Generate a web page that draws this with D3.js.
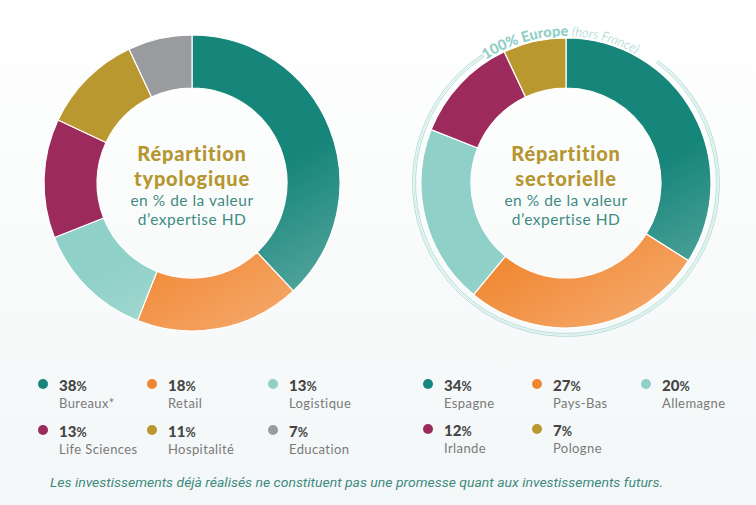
<!DOCTYPE html>
<html><head><meta charset="utf-8">
<script src="https://cdn.jsdelivr.net/npm/d3@7"></script>
<style>
body{margin:0;background:#fbfcfc;}
svg{display:block;}
text{font-variant-ligatures:none;}
</style></head>
<body>
<svg id="c" width="756" height="505"></svg>
<script>
const typoCategories = ["Bureaux*", "Retail", "Logistique", "Life Sciences", "Hospitalité", "Education"];
const typoValues = [38, 18, 13, 13, 11, 7];
const typoColors = ["#16857a", "#f08630", "#8fd0c8", "#9c2a5c", "#b8982f", "#9a9b9e"];

const sectCategories = ["Espagne", "Pays-Bas", "Allemagne", "Irlande", "Pologne"];
const sectValues = [34, 27, 20, 12, 7];
const sectColors = ["#16857a", "#f08630", "#8fd0c8", "#9c2a5c", "#b8982f"];

const centerTitles = [["Répartition", "typologique"], ["Répartition", "sectorielle"]];
const centerSub = ["en % de la valeur", "d\u2019expertise HD"];
const footnote = "Les investissements déjà réalisés ne constituent pas une promesse quant aux investissements futurs.";

const svg = d3.select("#c");
const defs = svg.append("defs");

const bg = defs.append("linearGradient").attr("id","bg").attr("x1",0).attr("y1",0).attr("x2",0).attr("y2",1);
bg.append("stop").attr("offset","0%").attr("stop-color","#ffffff");
bg.append("stop").attr("offset","100%").attr("stop-color","#f3f7f7");
svg.append("rect").attr("width",756).attr("height",505).attr("fill","url(#bg)");

function donut(id, cx, cy, R, r, cats, vals, cols){
  const g = svg.append("g").attr("transform",`translate(${cx},${cy})`);
  const pie = d3.pie().sort(null).value(d=>d)(vals);
  const arc = d3.arc().innerRadius(r).outerRadius(R);
  pie.forEach((p,i)=>{
    const gid = id+"g"+i;
    const lg = defs.append("linearGradient").attr("id",gid).attr("gradientUnits","userSpaceOnUse")
      .attr("x1",-R*0.3).attr("y1",-R).attr("x2",R*0.8).attr("y2",R*0.9);
    lg.append("stop").attr("offset","0%").attr("stop-color",cols[i]);
    lg.append("stop").attr("offset","55%").attr("stop-color",cols[i]);
    lg.append("stop").attr("offset","100%").attr("stop-color",d3.interpolateRgb(cols[i],"#ffffff")(0.3));
    g.append("path").attr("d",arc(p)).attr("fill",`url(#${gid})`)
      .attr("stroke","#ffffff").attr("stroke-width",1.2);
  });
  return g;
}

const fontTitle = "Lato, sans-serif";

function center(g, k){
  const mk = (y, txt, fs, fw, col, ls) => g.append("text").attr("x",0).attr("y",y)
    .attr("text-anchor","middle").attr("font-family",fontTitle).attr("font-size",fs)
    .attr("font-weight",fw).attr("fill",col).attr("letter-spacing",ls).text(txt);
  mk(-22, centerTitles[k][0], 20, 900, "#b5962f", 0.8);
  mk(2.5, centerTitles[k][1], 20, 900, "#b5962f", 0.8);
  mk(22.5, centerSub[0], 15.5, 400, "#3f8b84", 0.5);
  mk(41.5, centerSub[1], 15.5, 400, "#3f8b84", 0.5);
}

const g1 = donut("a", 192, 183, 148, 95, typoCategories, typoValues, typoColors);
center(g1, 0);

const g2c = {x:566, y:183};
const ringR = 152;
const ring = svg.append("g").attr("transform",`translate(${g2c.x},${g2c.y})`);
const toRad = d=>d*Math.PI/180;
ring.append("path").attr("d", d3.arc().innerRadius(ringR-1.5).outerRadius(ringR+1.5)
  .startAngle(toRad(37)).endAngle(toRad(327))()).attr("fill","none").attr("stroke","#a3d8d0").attr("stroke-width",0.8);
ring.append("path").attr("d", d3.arc().innerRadius(ringR-0.5).outerRadius(ringR+0.5)
  .startAngle(toRad(37)).endAngle(toRad(327))()).attr("fill","#d3ece8");
const tr = 147;
const a0 = toRad(-33), a1 = toRad(40);
const pth = `M ${tr*Math.sin(a0)} ${-tr*Math.cos(a0)} A ${tr} ${tr} 0 0 1 ${tr*Math.sin(a1)} ${-tr*Math.cos(a1)}`;
defs.append("path").attr("id","tp").attr("d",pth).attr("transform",`translate(${g2c.x},${g2c.y})`);
const tt = svg.append("text").attr("font-family","Lato, sans-serif").attr("fill","#8fcfc6").attr("font-size",14.5);
const tp = tt.append("textPath").attr("href","#tp").attr("startOffset","0%");
tp.append("tspan").attr("font-weight",900).text("100% Europe ");
tp.append("tspan").attr("font-style","italic").attr("font-weight",300).attr("font-size",13).text(" (hors France)");

const g2 = donut("b", g2c.x, g2c.y, 145, 95, sectCategories, sectValues, sectColors);
center(g2, 1);

function legend(cats, vals, cols, colX, rowY){
  cats.forEach((c,i)=>{
    const col = i%3, row = Math.floor(i/3);
    const x = colX[col], y = rowY[row];
    const g = svg.append("g").attr("transform",`translate(${x},${y})`);
    g.append("circle").attr("cx",0).attr("cy",-7).attr("r",5).attr("fill",cols[i]);
    const t = g.append("text").attr("x",16).attr("y",0).attr("font-family","Lato, sans-serif").attr("fill","#454545");
    t.append("tspan").attr("font-weight",900).attr("font-size",15).text(vals[i]);
    t.append("tspan").attr("font-weight",700).attr("font-size",12.5).text("%");
    g.append("text").attr("x",16).attr("y",16.5).attr("font-family","Lato, sans-serif")
      .attr("font-size",13).attr("letter-spacing",0.4).attr("fill","#7a7a7a").text(c);
  });
}
legend(typoCategories, typoValues, typoColors, [43, 152, 273], [391, 437]);
legend(sectCategories, sectValues, sectColors, [428, 537, 646], [391, 436]);

svg.append("text").attr("x",50).attr("y",487).attr("font-family","Roboto, sans-serif")
  .attr("font-style","italic").attr("font-size",12.5).attr("fill","#3f8a80")
  .attr("textLength",613).attr("lengthAdjust","spacingAndGlyphs").text(footnote);
</script>
</body></html>
